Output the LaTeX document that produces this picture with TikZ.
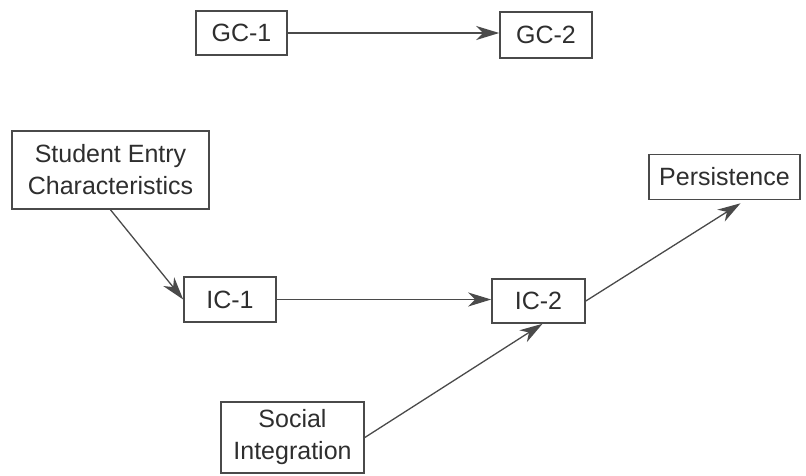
\documentclass[tikz,border=0pt]{standalone}
\usepackage{fontspec}
\setmainfont{Liberation Sans}
\usetikzlibrary{arrows.meta}
\definecolor{inkline}{HTML}{4A4A4A}
\definecolor{inktext}{HTML}{2E2E2E}
\tikzset{
  box/.style={draw=inkline, line width=1.6pt, text=inktext, align=center,
    inner sep=0pt, font=\fontsize{25}{32}\selectfont},
  link/.style={draw=inkline, line width=1.3pt,
    -{Stealth[length=23pt, width=14pt, inset=7pt]}}
}
\begin{document}
\begin{tikzpicture}[x=1pt, y=-1pt]
\useasboundingbox (0,0) rectangle (806,475);
% cohort blocks
\node[box, minimum width=91pt, minimum height=44pt] (gc1) at (241.5,33) {GC-1};
\node[box, minimum width=92pt, minimum height=46pt] (gc2) at (546,35) {GC-2};
% main path
\node[box, minimum width=197pt, minimum height=78pt] (se) at (110.5,170) {Student Entry\\Characteristics};
\node[box, minimum width=92pt, minimum height=45pt] (ic1) at (230,299.5) {IC-1};
\node[box, minimum width=93pt, minimum height=44pt] (ic2) at (538.5,301) {IC-2};
\node[box, minimum width=151pt, minimum height=45pt] (pers) at (724.5,177) {Persistence};
\node[box, minimum width=143pt, minimum height=71pt] (si) at (292.5,437.5) {Social\\Integration};
% connectors
\draw[link] (gc1.east) -- (gc1.east -| gc2.west);
\draw[link] (se.south) -- (ic1.west);
\draw[link] (ic1.east) -- (ic1.east -| ic2.west);
\draw[link] (ic2.east) -- ([xshift=16pt, yshift=-3pt]pers.south);
\draw[link] (si.east) -- ([xshift=4pt]ic2.south);
\end{tikzpicture}
\end{document}
